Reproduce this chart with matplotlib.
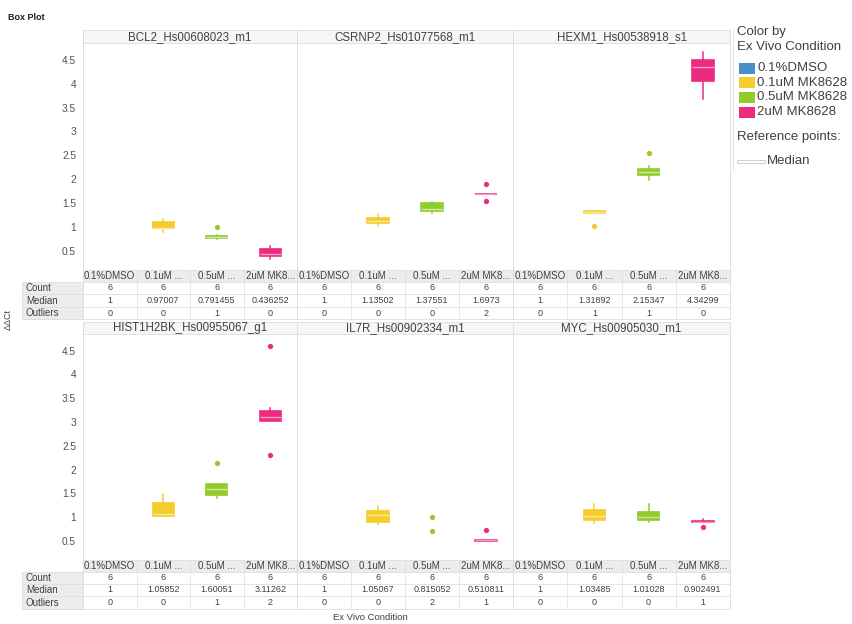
import matplotlib
matplotlib.use("Agg")
import matplotlib.pyplot as plt
from matplotlib.patches import Rectangle

plt.rcParams['font.family'] = ['Liberation Sans', 'DejaVu Sans']

# ---- data ----
genes = ["BCL2_Hs00608023_m1", "CSRNP2_Hs01077568_m1", "HEXM1_Hs00538918_s1",
         "HIST1H2BK_Hs00955067_g1", "IL7R_Hs00902334_m1", "MYC_Hs00905030_m1"]
conditions = ["0.1%DMSO", "0.1uM MK8628", "0.5uM MK8628", "2uM MK8628"]
cond_labels = ["0.1%DMSO", "0.1uM ...", "0.5uM ...", "2uM MK8..."]
colors = ["#4a90c8", "#f5cd2a", "#94cb2c", "#ec2a80"]

counts = [[6, 6, 6, 6]] * 6
medians = [[1, 0.97007, 0.791455, 0.436252],
           [1, 1.13502, 1.37551, 1.6973],
           [1, 1.31892, 2.15347, 4.34299],
           [1, 1.05852, 1.60051, 3.11262],
           [1, 1.05067, 0.815052, 0.510811],
           [1, 1.03485, 1.01028, 0.902491]]
outlier_counts = [[0, 0, 1, 0],
                  [0, 0, 0, 2],
                  [0, 1, 1, 0],
                  [0, 0, 1, 2],
                  [0, 0, 2, 1],
                  [0, 0, 0, 1]]
q1 = [[1, 0.98, 0.775, 0.39],
      [1, 1.09, 1.33, 1.6973],
      [1, 1.30, 2.08, 4.05],
      [1, 1.02, 1.46, 3.03],
      [1, 0.90, 0.815, 0.50],
      [1, 0.94, 0.94, 0.90]]
q3 = [[1, 1.10, 0.815, 0.53],
      [1, 1.19, 1.50, 1.6973],
      [1, 1.345, 2.22, 4.49],
      [1, 1.30, 1.70, 3.24],
      [1, 1.13, 0.815, 0.52],
      [1, 1.16, 1.11, 0.93]]
whislo = [[1, 0.89, 0.74, 0.32],
          [1, 1.02, 1.30, 1.6973],
          [1, 1.30, 1.99, 3.68],
          [1, 1.02, 1.41, 3.03],
          [1, 0.86, 0.815, 0.50],
          [1, 0.88, 0.90, 0.90]]
whishi = [[1, 1.16, 0.84, 0.60],
          [1, 1.27, 1.52, 1.6973],
          [1, 1.345, 2.27, 4.66],
          [1, 1.48, 1.70, 3.29],
          [1, 1.23, 0.815, 0.52],
          [1, 1.27, 1.27, 0.97]]
fliers = [[[], [], [1.00], []],
          [[], [], [], [1.89, 1.55]],
          [[], [1.03], [2.54], []],
          [[], [], [2.14], [4.60, 2.30]],
          [[], [], [1.00, 0.72], [0.74]],
          [[], [], [], [0.80]]]
# boxes that show in the picture (DMSO is flat at 1 and not drawn)
shown = [[False, True, True, True],
         [False, True, True, True],
         [False, True, True, True],
         [False, True, True, True],
         [False, True, False, True],
         [False, True, True, True]]
yticks = [0.5, 1, 1.5, 2, 2.5, 3, 3.5, 4, 4.5]

W, H = 852, 624
fig = plt.figure(figsize=(W / 100, H / 100), dpi=100)
bg = fig.add_axes([0, 0, 1, 1])
bg.set_xlim(0, W)
bg.set_ylim(H, 0)
bg.axis("off")

txt = "#404040"
grid = "#dedede"


def rect(x0, y0, x1, y1, **kw):
    bg.add_patch(Rectangle((x0, y0), x1 - x0, y1 - y0, **kw))


def tint(c, f=0.55):
    r, g, b = matplotlib.colors.to_rgb(c)
    return (r + (1 - r) * f, g + (1 - g) * f, b + (1 - b) * f)


col_x = [83, 297, 513, 730]
rows = [dict(head=(30, 43), plot=(43, 270), cat=(270, 282), tab=[282, 294, 307, 319]),
        dict(head=(322, 334), plot=(334, 560), cat=(560, 572), tab=[572, 584, 596, 609])]
row_names = ["Count", "Median", "Outliers"]

bg.text(8, 17, "Box Plot", fontsize=6.5, fontweight="bold", color="#222222", va="center")

for r, row in enumerate(rows):
    h0, h1 = row["head"]
    p0, p1 = row["plot"]
    c0, c1 = row["cat"]
    tab = row["tab"]
    rect(col_x[0], h0, col_x[-1], h1, facecolor="#f6f6f6", edgecolor=grid, lw=0.6)
    rect(col_x[0], c0, col_x[-1], c1, facecolor="#ececec", edgecolor=grid, lw=0.6)
    # table label column
    rect(22, tab[0], col_x[0], tab[-1], facecolor="#ececec", edgecolor=grid, lw=0.6)
    for k in range(3):
        bg.plot([22, col_x[-1]], [tab[k + 1], tab[k + 1]], color=grid, lw=0.6)
        bg.text(26, (tab[k] + tab[k + 1]) / 2, row_names[k], fontsize=7,
                color=txt, va="center", ha="left")
    for x in col_x:
        bg.plot([x, x], [h0, tab[-1]], color=grid, lw=0.7)
    for p in range(3):
        g = r * 3 + p
        x0, x1 = col_x[p], col_x[p + 1]
        bg.text((x0 + x1) / 2, (h0 + h1) / 2 + 0.5, genes[g], fontsize=8.3,
                color=txt, ha="center", va="center")
        cw = (x1 - x0) / 4
        for j in range(4):
            cx = x0 + cw * (j + 0.5)
            if j > 0:
                bg.plot([x0 + cw * j] * 2, [c0, tab[-1]], color=grid, lw=0.5)
            bg.text(cx, (c0 + c1) / 2, cond_labels[j], fontsize=7, color=txt,
                    ha="center", va="center")
            vals = [str(counts[g][j]), f"{medians[g][j]:g}", str(outlier_counts[g][j])]
            for k in range(3):
                bg.text(cx, (tab[k] + tab[k + 1]) / 2, vals[k], fontsize=6.5,
                        color=txt, ha="center", va="center")

        ax = fig.add_axes([x0 / W, 1 - p1 / H, (x1 - x0) / W, (p1 - p0) / H])
        ax.patch.set_alpha(0)
        stats, pos, cols = [], [], []
        for j in range(4):
            if not shown[g][j]:
                if fliers[g][j]:
                    ax.plot([j] * len(fliers[g][j]), fliers[g][j], "o", ms=3.8,
                            color=colors[j], mec="none")
                continue
            stats.append(dict(med=medians[g][j], q1=q1[g][j], q3=q3[g][j],
                              whislo=whislo[g][j], whishi=whishi[g][j],
                              fliers=fliers[g][j]))
            pos.append(j)
            cols.append(colors[j])
        bp = ax.bxp(stats, positions=pos, widths=0.4, patch_artist=True,
                    showcaps=False, manage_ticks=False)
        for k, c in enumerate(cols):
            bp["boxes"][k].set(facecolor=c, edgecolor=c, lw=1.2)
            bp["medians"][k].set(color=tint(c), lw=1.0)
            for w in bp["whiskers"][2 * k:2 * k + 2]:
                w.set(color=c, lw=1.1)
            bp["fliers"][k].set(marker="o", markerfacecolor=c, markeredgecolor="none",
                                markersize=3.8)
        ax.set_xlim(-0.5, 3.5)
        ax.set_ylim(0.1, 4.85)
        ax.set_xticks([])
        if p == 0:
            ax.set_yticks(yticks)
            ax.set_yticklabels([f"{v:g}" for v in yticks], fontsize=7.3, color="#505050")
            ax.tick_params(axis="y", length=0, pad=5)
        else:
            ax.set_yticks([])
        for s in ax.spines.values():
            s.set_visible(False)

bg.text(8, 320, "ΔΔCt", fontsize=6.5, color=txt, rotation=90, ha="center", va="center")
bg.text(370, 617, "Ex Vivo Condition", fontsize=6.8, color=txt, ha="center", va="center")

# legend
bg.plot([733, 733], [30, 170], color="#e6e6e6", lw=0.8)
bg.text(737, 32, "Color by", fontsize=9.5, color=txt, va="center")
bg.text(737, 47, "Ex Vivo Condition", fontsize=9.5, color=txt, va="center")
for j, c in enumerate(conditions):
    y = 68 + j * 14.7
    rect(739, y - 5.5, 755, y + 5.5, facecolor=colors[j], edgecolor="none")
    bg.text(757, y, c, fontsize=9.5, color=txt, va="center")
bg.text(737, 137, "Reference points:", fontsize=9.5, color=txt, va="center")
rect(737, 159.5, 765, 162.5, facecolor="white", edgecolor="#cfcfcf", lw=0.7)
bg.text(767, 161, "Median", fontsize=9.5, color=txt, va="center")

fig.savefig("out.png", dpi=100)
